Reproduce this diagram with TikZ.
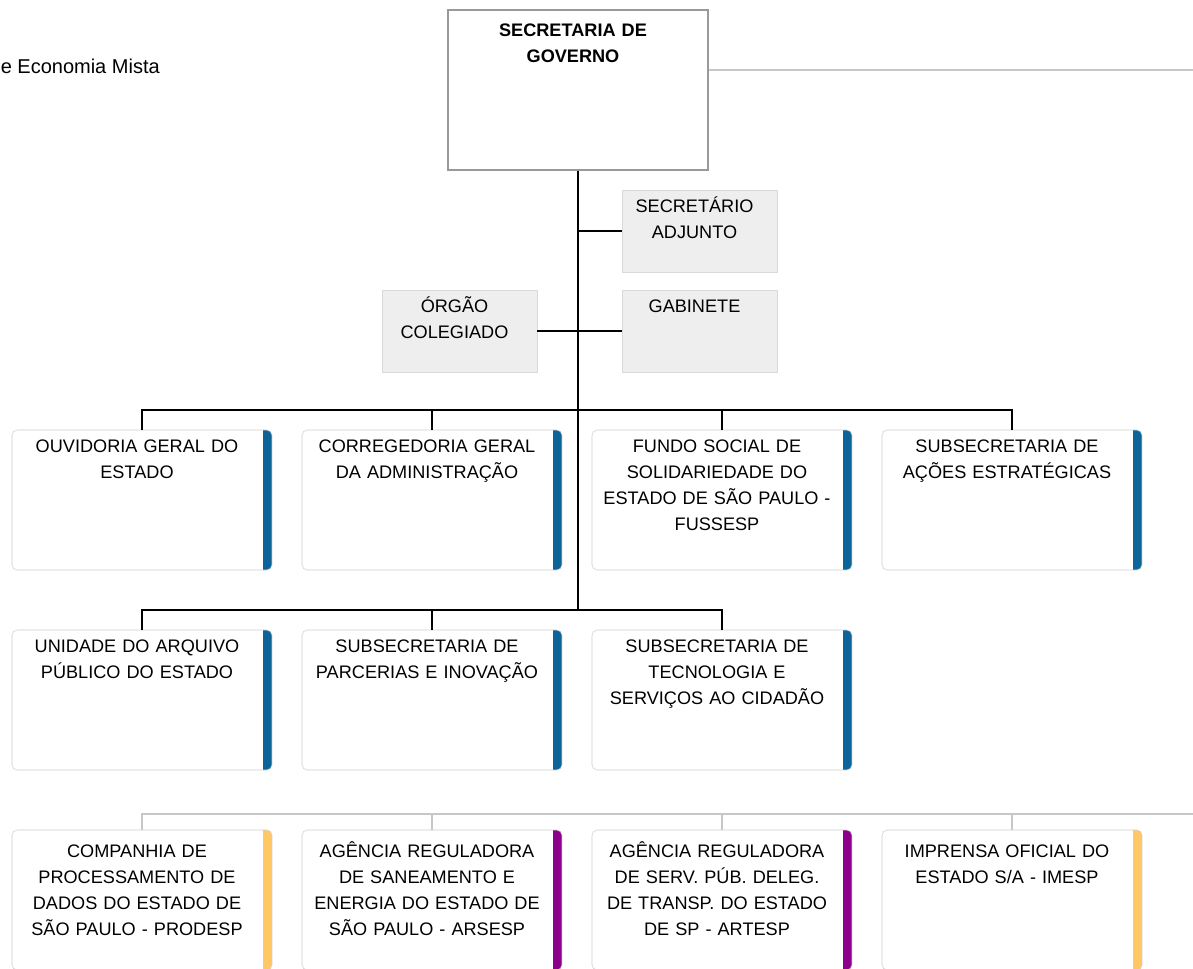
\documentclass[tikz,border=0pt]{standalone}
\usepackage{fontspec}
\setmainfont{Liberation Sans}
\usetikzlibrary{calc}
\definecolor{barblue}{RGB}{12,100,152}
\definecolor{baryellow}{RGB}{255,200,100}
\definecolor{barpurple}{RGB}{140,0,140}
\definecolor{boxgray}{RGB}{238,238,238}
\tikzset{
  card/.style={draw=black!20, fill=white, rounded corners=4pt, inner sep=0pt,
    minimum width=195pt, minimum height=105pt,
    path picture={\fill[#1, sharp corners] ([xshift=-6.5pt]path picture bounding box.north east) rectangle ([xshift=1pt]path picture bounding box.south east);}},
  graybox/.style={draw=black!15, fill=boxgray, inner sep=0pt, minimum width=116pt, minimum height=61.5pt},
  boxtext/.style={text width=185pt, align=center, anchor=base, inner sep=0pt,
    font=\fontsize{13.6}{19.5}\selectfont},
  wire/.style={line width=1.2pt},
  lightwire/.style={line width=1.1pt, black!22}
}

\begin{document}
\begin{tikzpicture}[x=0.75pt,y=-0.75pt]
\useasboundingbox (0,0) rectangle (1193,968);
% row heights
\pgfmathsetmacro{\ra}{500}
\pgfmathsetmacro{\rb}{700}
\pgfmathsetmacro{\rc}{900}

% head
\node[draw=black!40, line width=1.1pt, fill=white, minimum width=195pt, minimum height=120pt, inner sep=0pt] (sec) at (578,90) {};
\node[boxtext, font=\fontsize{13.6}{19.5}\selectfont\bfseries] (sect) at ([xshift=-3.75pt,yshift=-20.25pt]sec.north) {SECRETARIA DE\\GOVERNO};
\node[anchor=base east, inner sep=0pt, font=\fontsize{15}{19.5}\selectfont] (legend) at (160,73) {e Economia Mista};
\coordinate (topline) at (1193,70);
\draw[lightwire] (sec.east |- topline) -- (topline);

% staff boxes
\node[graybox] (adj) at (699.5,231) {};
\node[boxtext] (adjt) at ([xshift=-3.75pt,yshift=-17.25pt]adj.north) {SECRET\'ARIO\\ADJUNTO};
\node[graybox] (col) at (459.5,331) {};
\node[boxtext] (colt) at ([xshift=-3.75pt,yshift=-17.25pt]col.north) {\'ORG\~AO\\COLEGIADO};
\node[graybox] (gab) at (699.5,331) {};
\node[boxtext] (gabt) at ([xshift=-3.75pt,yshift=-17.25pt]gab.north) {GABINETE};

% first row
\node[card=barblue] (ouv) at (142,\ra) {};
\node[boxtext] (ouvt) at ([xshift=-3.75pt,yshift=-17.25pt]ouv.north) {OUVIDORIA GERAL DO\\ESTADO};
\node[card=barblue] (cor) at (432,\ra) {};
\node[boxtext] (cort) at ([xshift=-3.75pt,yshift=-17.25pt]cor.north) {CORREGEDORIA GERAL\\DA ADMINISTRA\c{C}\~AO};
\node[card=barblue] (fus) at (722,\ra) {};
\node[boxtext] (fust) at ([xshift=-3.75pt,yshift=-17.25pt]fus.north) {FUNDO SOCIAL DE\\SOLIDARIEDADE DO\\ESTADO DE S\~AO PAULO -\\FUSSESP};
\node[card=barblue] (est) at (1012,\ra) {};
\node[boxtext] (estt) at ([xshift=-3.75pt,yshift=-17.25pt]est.north) {SUBSECRETARIA DE\\A\c{C}\~OES ESTRAT\'EGICAS};

% second row
\node[card=barblue] (arq) at (142,\rb) {};
\node[boxtext] (arqt) at ([xshift=-3.75pt,yshift=-17.25pt]arq.north) {UNIDADE DO ARQUIVO\\P\'UBLICO DO ESTADO};
\node[card=barblue] (par) at (432,\rb) {};
\node[boxtext] (part) at ([xshift=-3.75pt,yshift=-17.25pt]par.north) {SUBSECRETARIA DE\\PARCERIAS E INOVA\c{C}\~AO};
\node[card=barblue] (tec) at (722,\rb) {};
\node[boxtext] (tect) at ([xshift=-3.75pt,yshift=-17.25pt]tec.north) {SUBSECRETARIA DE\\TECNOLOGIA E\\SERVI\c{C}OS AO CIDAD\~AO};

% third row
\node[card=baryellow] (pro) at (142,\rc) {};
\node[boxtext] (prot) at ([xshift=-3.75pt,yshift=-21pt]pro.north) {COMPANHIA DE\\PROCESSAMENTO DE\\DADOS DO ESTADO DE\\S\~AO PAULO - PRODESP};
\node[card=barpurple] (ars) at (432,\rc) {};
\node[boxtext] (arst) at ([xshift=-3.75pt,yshift=-21pt]ars.north) {AG\^ENCIA REGULADORA\\DE SANEAMENTO E\\ENERGIA DO ESTADO DE\\S\~AO PAULO - ARSESP};
\node[card=barpurple] (art) at (722,\rc) {};
\node[boxtext] (artt) at ([xshift=-3.75pt,yshift=-21pt]art.north) {AG\^ENCIA REGULADORA\\DE SERV. P\'UB. DELEG.\\DE TRANSP. DO ESTADO\\DE SP - ARTESP};
\node[card=baryellow] (ime) at (1012,\rc) {};
\node[boxtext] (imet) at ([xshift=-3.75pt,yshift=-21pt]ime.north) {IMPRENSA OFICIAL DO\\ESTADO S/A - IMESP};

% connectors
\coordinate (busa) at (578,410);
\coordinate (spine) at (578,610);
\coordinate (busc) at (1193,814);
\draw[wire] (sec.south) -- (spine);
\draw[wire] (adj.west) -- (adj.west -| spine);
\draw[wire] (col.east) -- (gab.west);
\draw[wire] (ouv.north) |- (est.north |- busa) -- (est.north);
\draw[wire] (cor.north) -- (cor.north |- busa);
\draw[wire] (fus.north) -- (fus.north |- busa);
\draw[wire] (arq.north) |- (tec.north |- spine) -- (tec.north);
\draw[wire] (par.north) -- (par.north |- spine);
\draw[lightwire] (pro.north) |- (busc);
\draw[lightwire] (ars.north) -- (ars.north |- busc);
\draw[lightwire] (art.north) -- (art.north |- busc);
\draw[lightwire] (ime.north) -- (ime.north |- busc);
\end{tikzpicture}
\end{document}
